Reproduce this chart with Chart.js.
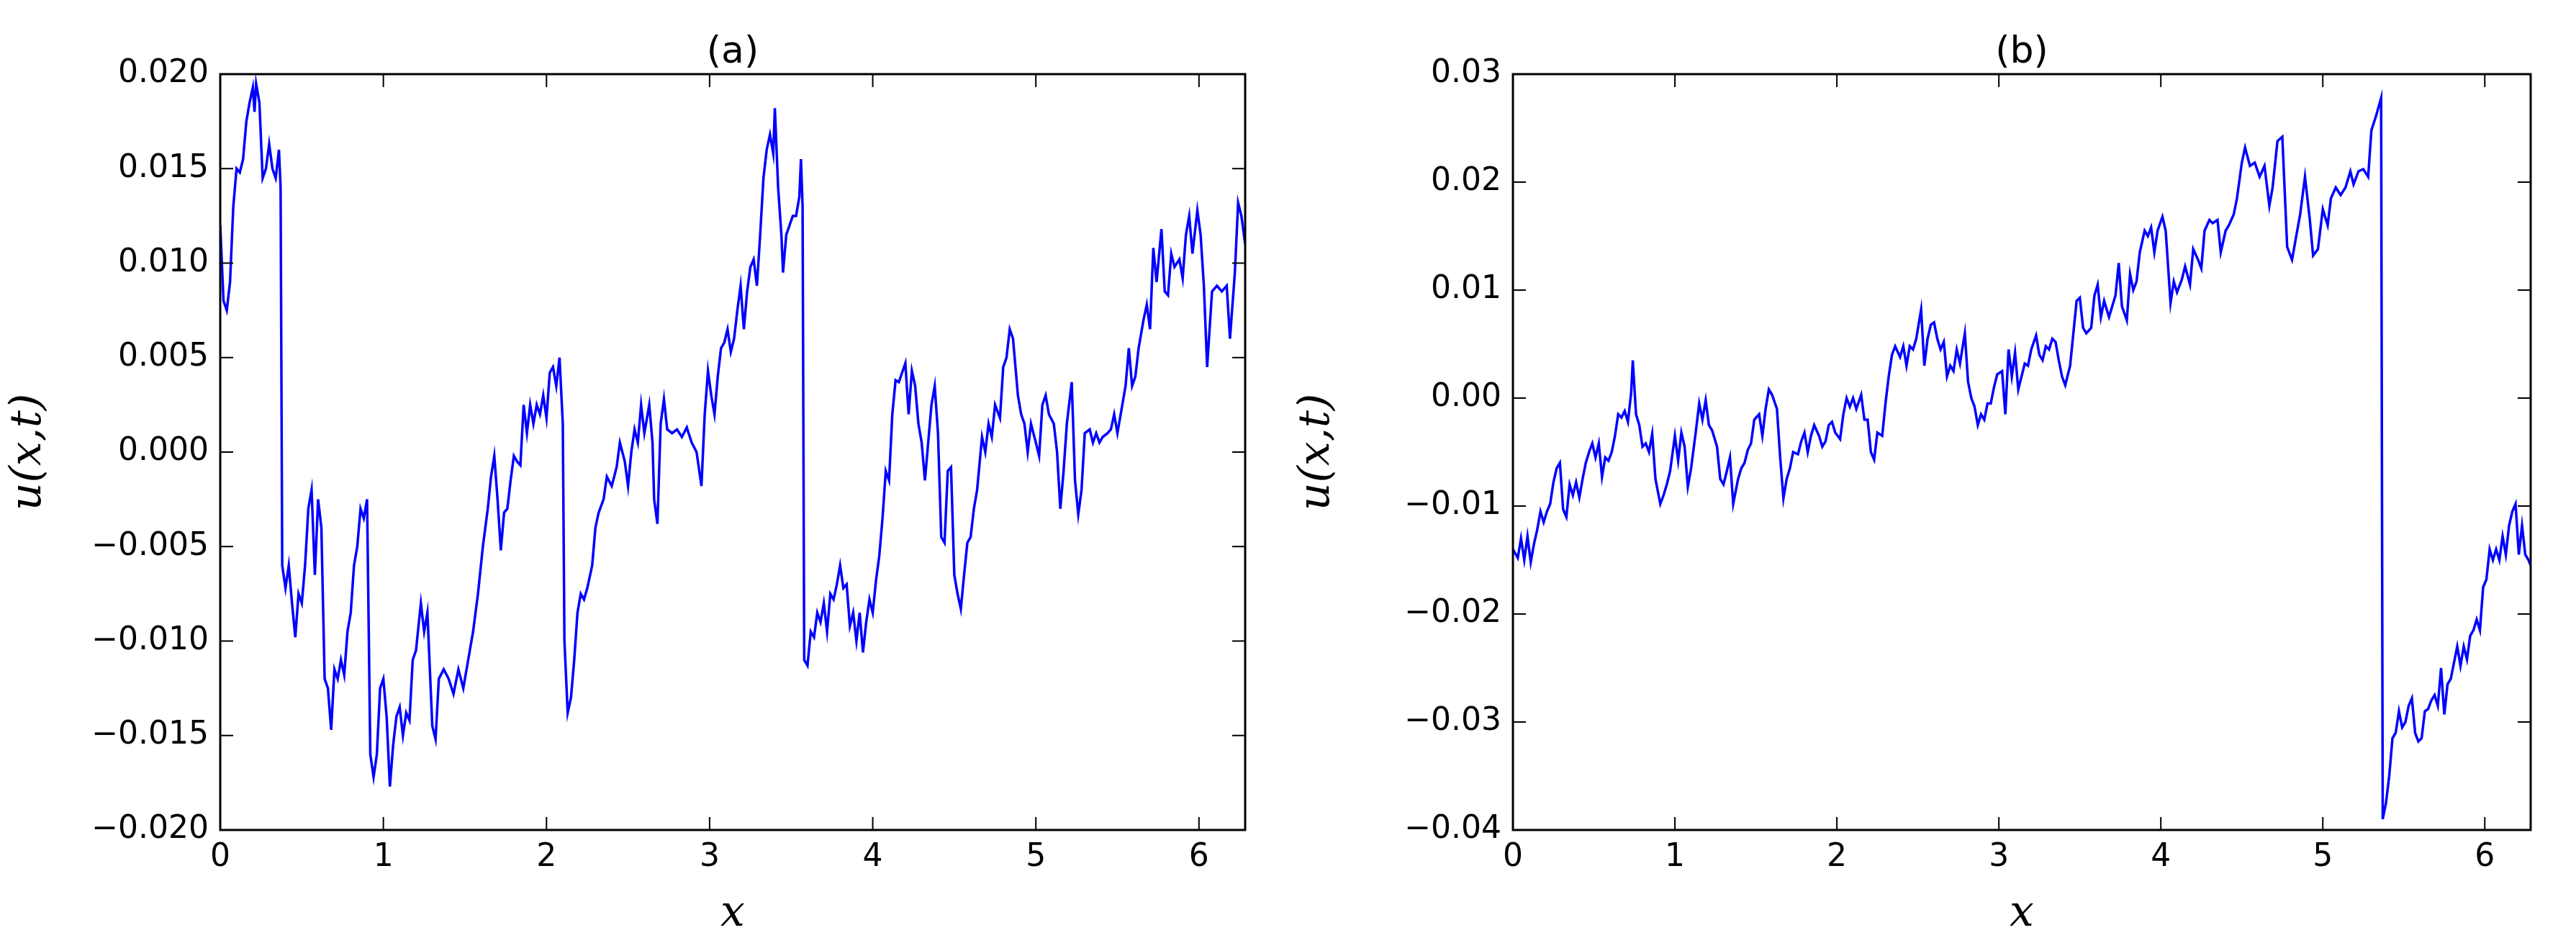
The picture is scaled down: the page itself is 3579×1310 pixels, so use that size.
<!DOCTYPE html>
<html>
<head>
<meta charset="utf-8">
<script src="https://cdn.jsdelivr.net/npm/chart.js@4.4.0/dist/chart.umd.min.js"></script>
<style>
  body { margin: 0; background: #fff; }
  .panel { position: absolute; top: 0; height: 1310px; }
  #panelA { left: 0; width: 1790px; }
  #panelB { left: 1790px; width: 1789px; }
</style>
</head>
<body>
<div class="panel" id="panelA"><canvas id="chartA"></canvas></div>
<div class="panel" id="panelB"><canvas id="chartB"></canvas></div>
<script>
// Panel (a)
const xA = [
  0, 0.02, 0.04, 0.06, 0.08, 0.10, 0.12, 0.14, 0.16, 0.18,
  0.20, 0.21, 0.22, 0.24, 0.26, 0.28, 0.30, 0.32, 0.34, 0.36,
  0.37, 0.38, 0.40, 0.42, 0.44, 0.46, 0.48, 0.50, 0.52, 0.54,
  0.56, 0.58, 0.60, 0.62, 0.64, 0.66, 0.68, 0.70, 0.72, 0.74,
  0.76, 0.78, 0.80, 0.82, 0.84, 0.86, 0.88, 0.90, 0.92, 0.94,
  0.96, 0.98, 1.00, 1.02, 1.04, 1.06, 1.08, 1.10, 1.12, 1.14,
  1.16, 1.18, 1.20, 1.23, 1.25, 1.27, 1.30, 1.32, 1.34, 1.37,
  1.40, 1.43, 1.46, 1.49, 1.52, 1.55, 1.58, 1.61, 1.64, 1.66,
  1.68, 1.70, 1.72, 1.74, 1.76, 1.78, 1.80, 1.82, 1.84, 1.86,
  1.88, 1.90, 1.92, 1.94, 1.96, 1.98, 2.00, 2.02, 2.04, 2.06,
  2.08, 2.10, 2.11, 2.13, 2.15, 2.17, 2.19, 2.21, 2.23, 2.25,
  2.28, 2.30, 2.32, 2.35, 2.37, 2.40, 2.43, 2.45, 2.48, 2.50,
  2.52, 2.54, 2.56, 2.58, 2.60, 2.63, 2.65, 2.66, 2.68, 2.70,
  2.72, 2.74, 2.77, 2.80, 2.83, 2.86, 2.89, 2.92, 2.95, 2.97,
  2.99, 3.01, 3.03, 3.05, 3.07, 3.09, 3.11, 3.13, 3.15, 3.17,
  3.19, 3.21, 3.23, 3.25, 3.27, 3.29, 3.31, 3.33, 3.35, 3.37,
  3.39, 3.40, 3.42, 3.44, 3.45, 3.47, 3.49, 3.51, 3.53, 3.55,
  3.56, 3.57, 3.58, 3.60, 3.62, 3.64, 3.66, 3.68, 3.70, 3.72,
  3.74, 3.76, 3.78, 3.80, 3.82, 3.84, 3.86, 3.88, 3.90, 3.92,
  3.94, 3.96, 3.98, 4.00, 4.02, 4.04, 4.06, 4.08, 4.10, 4.12,
  4.14, 4.16, 4.18, 4.20, 4.22, 4.24, 4.26, 4.28, 4.30, 4.32,
  4.34, 4.36, 4.38, 4.40, 4.42, 4.44, 4.46, 4.48, 4.50, 4.52,
  4.54, 4.56, 4.58, 4.60, 4.62, 4.64, 4.67, 4.69, 4.71, 4.73,
  4.75, 4.78, 4.80, 4.82, 4.84, 4.86, 4.89, 4.91, 4.93, 4.95,
  4.97, 5.00, 5.02, 5.04, 5.06, 5.08, 5.11, 5.13, 5.15, 5.17,
  5.19, 5.22, 5.24, 5.26, 5.28, 5.30, 5.33, 5.35, 5.37, 5.39,
  5.41, 5.44, 5.46, 5.48, 5.50, 5.52, 5.55, 5.57, 5.59, 5.61,
  5.63, 5.66, 5.68, 5.70, 5.72, 5.74, 5.77, 5.79, 5.81, 5.83,
  5.85, 5.88, 5.90, 5.92, 5.94, 5.96, 5.99, 6.01, 6.03, 6.05,
  6.08, 6.11, 6.14, 6.17, 6.19, 6.22, 6.24, 6.26, 6.2832
];
const yA = [
  0.012, 0.008, 0.0075, 0.009, 0.013, 0.015, 0.0148, 0.0155, 0.0175, 0.0185,
  0.0193, 0.018, 0.0195, 0.0185, 0.0145, 0.015, 0.0163, 0.015, 0.0145, 0.016,
  0.014, -0.006, -0.0072, -0.006, -0.008, -0.0098, -0.0075, -0.008, -0.006, -0.003,
  -0.002, -0.0065, -0.0025, -0.004, -0.012, -0.0125, -0.0147, -0.0115, -0.012, -0.011,
  -0.0118, -0.0095, -0.0085, -0.006, -0.005, -0.003, -0.0035, -0.0025, -0.016, -0.0172,
  -0.016, -0.0125, -0.012, -0.014, -0.0177, -0.0155, -0.014, -0.0135, -0.015, -0.0138,
  -0.0142, -0.011, -0.0105, -0.008, -0.0095, -0.0085, -0.0145, -0.0152, -0.012, -0.0115,
  -0.012, -0.0128, -0.0115, -0.0125, -0.011, -0.0095, -0.0075, -0.005, -0.003, -0.0013,
  -0.0002, -0.0025, -0.0052, -0.0032, -0.003, -0.0015, -0.0002, -0.0005, -0.0007, 0.0025,
  0.001, 0.0025, 0.0015, 0.0025, 0.002, 0.003, 0.0018, 0.0042, 0.0045, 0.0035,
  0.005, 0.0015, -0.01, -0.0138, -0.013, -0.011, -0.0085, -0.0075, -0.0078, -0.0072,
  -0.006, -0.004, -0.0032, -0.0025, -0.0013, -0.0018, -0.0008, 0.0005, -0.0005, -0.0018,
  0, 0.0012, 0.0005, 0.0025, 0.001, 0.0025, 0.0005, -0.0025, -0.0038, 0.0015,
  0.0028, 0.0012, 0.001, 0.0012, 0.0008, 0.0013, 0.0005, 0, -0.0018, 0.002,
  0.0043, 0.003, 0.002, 0.004, 0.0055, 0.0058, 0.0065, 0.0053, 0.006, 0.0075,
  0.0088, 0.0065, 0.0085, 0.0098, 0.0102, 0.0088, 0.0115, 0.0145, 0.016, 0.0168,
  0.0158, 0.0182, 0.014, 0.0115, 0.0095, 0.0115, 0.012, 0.0125, 0.0125, 0.0135,
  0.0155, 0.013, -0.011, -0.0113, -0.0095, -0.0098, -0.0085, -0.009, -0.008, -0.0095,
  -0.0075, -0.0078, -0.007, -0.006, -0.0072, -0.007, -0.0092, -0.0085, -0.01, -0.0085,
  -0.0106, -0.009, -0.0078, -0.0085, -0.0068, -0.0055, -0.0035, -0.001, -0.0015, 0.002,
  0.0038, 0.0037, 0.0042, 0.0047, 0.002, 0.0043, 0.0035, 0.0015, 0.0005, -0.0015,
  0.0005, 0.0025, 0.0035, 0.001, -0.0045, -0.0048, -0.001, -0.0008, -0.0065, -0.0075,
  -0.0083, -0.0065, -0.0048, -0.0045, -0.003, -0.002, 0.0008, 0, 0.0015, 0.0008,
  0.0025, 0.0018, 0.0045, 0.005, 0.0065, 0.006, 0.003, 0.002, 0.0015, 0,
  0.0015, 0.0005, -0.0002, 0.0025, 0.003, 0.002, 0.0015, 0, -0.003, -0.001,
  0.0015, 0.0037, -0.0015, -0.0033, -0.002, 0.001, 0.0012, 0.0005, 0.001, 0.0005,
  0.0008, 0.001, 0.0012, 0.002, 0.001, 0.002, 0.0035, 0.0055, 0.0035, 0.004,
  0.0055, 0.007, 0.0078, 0.0065, 0.0108, 0.009, 0.0118, 0.0085, 0.0083, 0.0105,
  0.0098, 0.0102, 0.0092, 0.0115, 0.0125, 0.0105, 0.0128, 0.0115, 0.0088, 0.0045,
  0.0085, 0.0088, 0.0085, 0.0088, 0.006, 0.0095, 0.0132, 0.0125, 0.011
];

// Panel (b)
const xB = [
  0, 0.03, 0.05, 0.07, 0.09, 0.11, 0.13, 0.15, 0.17, 0.19,
  0.21, 0.23, 0.25, 0.27, 0.29, 0.31, 0.33, 0.35, 0.37, 0.39,
  0.41, 0.43, 0.45, 0.47, 0.49, 0.51, 0.53, 0.55, 0.57, 0.59,
  0.61, 0.63, 0.65, 0.67, 0.69, 0.71, 0.73, 0.74, 0.76, 0.78,
  0.80, 0.82, 0.84, 0.86, 0.88, 0.91,
  0.93, 0.95, 0.97, 1.00, 1.02, 1.04, 1.06, 1.08, 1.10, 1.13,
  1.15, 1.17, 1.19, 1.21, 1.23, 1.26, 1.28, 1.30, 1.32, 1.34,
  1.36, 1.39, 1.41, 1.43, 1.45, 1.47, 1.49, 1.52, 1.54, 1.56,
  1.58, 1.60, 1.63, 1.65, 1.67,
  1.69, 1.71, 1.73, 1.76, 1.78, 1.80, 1.82, 1.84, 1.86, 1.89,
  1.91, 1.93, 1.95, 1.97, 1.99, 2.02, 2.04, 2.06, 2.08, 2.10,
  2.12, 2.15, 2.17, 2.19, 2.21, 2.23, 2.25, 2.28, 2.30, 2.32,
  2.34, 2.36, 2.39, 2.41, 2.43, 2.45, 2.47, 2.49, 2.52,
  2.54, 2.56, 2.58, 2.60, 2.62, 2.64, 2.66, 2.68, 2.70, 2.72,
  2.74, 2.76, 2.79, 2.81, 2.83, 2.85, 2.87,
  2.89, 2.91, 2.93, 2.95, 2.97, 2.99, 3.02, 3.04, 3.06, 3.08,
  3.10, 3.12, 3.14, 3.16, 3.18, 3.20, 3.23, 3.25, 3.27, 3.29,
  3.31, 3.33, 3.35, 3.37, 3.39, 3.41, 3.44, 3.46, 3.48, 3.50,
  3.52, 3.54, 3.57, 3.59, 3.61, 3.63, 3.65, 3.68, 3.70, 3.72,
  3.74, 3.76, 3.79, 3.81, 3.83, 3.85, 3.87, 3.90, 3.92, 3.94,
  3.96, 3.98, 4.01,
  4.03, 4.06, 4.08, 4.10, 4.13, 4.15, 4.18, 4.20, 4.23, 4.25,
  4.27, 4.30, 4.32, 4.35, 4.37, 4.40, 4.42, 4.45, 4.47, 4.50,
  4.52,
  4.55, 4.58, 4.61, 4.64, 4.67, 4.69, 4.72, 4.75,
  4.78, 4.81, 4.83, 4.86, 4.89, 4.92, 4.94, 4.97, 5.00, 5.03,
  5.05, 5.08, 5.11, 5.14, 5.17, 5.19, 5.22, 5.25, 5.28, 5.30,
  5.33, 5.36,
  5.37, 5.39, 5.41, 5.43, 5.45, 5.47, 5.49, 5.51, 5.53, 5.55,
  5.57, 5.59, 5.61, 5.63, 5.65, 5.67, 5.69, 5.71, 5.73, 5.75,
  5.77, 5.79, 5.81, 5.83, 5.85, 5.87, 5.89, 5.91, 5.93, 5.95,
  5.97, 5.99, 6.01, 6.03, 6.05, 6.07, 6.09, 6.11, 6.13, 6.15,
  6.17, 6.19, 6.21, 6.23, 6.25, 6.27, 6.2832
];
const yB = [
  -0.014, -0.0148, -0.013, -0.015, -0.0128, -0.0152, -0.0135, -0.0122, -0.0105, -0.0115,
  -0.0105, -0.0098, -0.0078, -0.0065, -0.006, -0.0103, -0.011, -0.008, -0.009, -0.0078,
  -0.0092, -0.0075, -0.006, -0.005, -0.0042, -0.0055, -0.0042, -0.0073, -0.0055, -0.0058,
  -0.005, -0.0035, -0.0015, -0.0018, -0.0012, -0.0022, 0.0005, 0.0035, -0.0015, -0.0025,
  -0.0045, -0.0042, -0.005, -0.0033, -0.0075, -0.0098,
  -0.009, -0.008, -0.0068, -0.0035, -0.0058, -0.0032, -0.0045, -0.0082, -0.0065, -0.003,
  -0.0005, -0.002, -0.0002, -0.0025, -0.003, -0.0045, -0.0075, -0.008, -0.0068, -0.0055,
  -0.0098, -0.0075, -0.0065, -0.006, -0.0048, -0.0042, -0.002, -0.0015, -0.0035, -0.001,
  0.0008, 0.0003, -0.001, -0.0055, -0.0093,
  -0.0075, -0.0065, -0.005, -0.0052, -0.004, -0.0032, -0.005, -0.0035, -0.0025, -0.0035,
  -0.0045, -0.004, -0.0025, -0.0022, -0.0032, -0.0038, -0.0015, 0, -0.0008, 0,
  -0.001, 0.0003, -0.002, -0.002, -0.005, -0.0057, -0.0032, -0.0035, -0.0005, 0.002,
  0.004, 0.0048, 0.0038, 0.0048, 0.003, 0.0048, 0.0045, 0.0055, 0.0082,
  0.003, 0.0055, 0.0068, 0.007, 0.0055, 0.0045, 0.0052, 0.002, 0.003, 0.0025,
  0.0045, 0.0032, 0.006, 0.0015, 0, -0.0008, -0.0025,
  -0.0015, -0.002, -0.0005, -0.0005, 0.001, 0.0022, 0.0025, -0.0015, 0.0045, 0.002,
  0.0042, 0.0008, 0.002, 0.0032, 0.003, 0.0045, 0.0058, 0.004, 0.0035, 0.0048,
  0.0045, 0.0055, 0.0052, 0.0035, 0.002, 0.0012, 0.003, 0.006, 0.009, 0.0093,
  0.0065, 0.006, 0.0065, 0.0095, 0.0105, 0.0075, 0.009, 0.0075, 0.0085, 0.0095,
  0.0125, 0.0085, 0.0072, 0.0115, 0.01, 0.0108, 0.0135, 0.0155, 0.015, 0.0158,
  0.0135, 0.0155, 0.0168,
  0.0155, 0.0088, 0.0108, 0.0098, 0.011, 0.0122, 0.0105, 0.0138, 0.0128, 0.012,
  0.0155, 0.0165, 0.0162, 0.0165, 0.0135, 0.0155, 0.016, 0.017, 0.0185, 0.0218,
  0.0232,
  0.0215, 0.0218, 0.0205, 0.0215, 0.0178, 0.0195, 0.0238, 0.0242,
  0.014, 0.0128, 0.0145, 0.017, 0.0205, 0.0165, 0.0132, 0.0138, 0.0175, 0.016,
  0.0185, 0.0195, 0.0188, 0.0195, 0.021, 0.0198, 0.021, 0.0212, 0.0205, 0.0248,
  0.0262, 0.0278,
  -0.039, -0.0375, -0.035, -0.0315, -0.031, -0.029, -0.0305, -0.03, -0.0285, -0.0278,
  -0.031, -0.0318, -0.0315, -0.029, -0.0288, -0.028, -0.0275, -0.0285, -0.025, -0.0293,
  -0.0265, -0.026, -0.0245, -0.023, -0.0248, -0.023, -0.0242, -0.022, -0.0215, -0.0205,
  -0.0215, -0.0175, -0.0168, -0.014, -0.015, -0.014, -0.015, -0.0128, -0.0145, -0.0118,
  -0.0105, -0.0098, -0.0145, -0.0118, -0.0145, -0.015, -0.0155
];

const xTicks = [0, 1, 2, 3, 4, 5, 6];
const yTicksA = [-0.020, -0.015, -0.010, -0.005, 0.000, 0.005, 0.010, 0.015, 0.020];
const yTicksB = [-0.04, -0.03, -0.02, -0.01, 0.00, 0.01, 0.02, 0.03];

const X_MAX = 2 * Math.PI;

// matplotlib-like frame with inward ticks on all four sides, plus title
const framePlugin = {
    id: 'frame',
    afterDraw(chart, args, opts) {
        const { ctx, chartArea: a, scales } = chart;
        ctx.save();
        ctx.strokeStyle = '#000';
        ctx.lineWidth = 3;
        ctx.strokeRect(a.left, a.top, a.right - a.left, a.bottom - a.top);
        ctx.lineWidth = 2;
        ctx.beginPath();
        xTicks.forEach(function(v) {
            const px = scales.x.getPixelForValue(v);
            ctx.moveTo(px, a.bottom); ctx.lineTo(px, a.bottom - 18);
            ctx.moveTo(px, a.top); ctx.lineTo(px, a.top + 18);
        });
        opts.yTicks.forEach(function(v) {
            const py = scales.y.getPixelForValue(v);
            ctx.moveTo(a.left, py); ctx.lineTo(a.left + 18, py);
            ctx.moveTo(a.right, py); ctx.lineTo(a.right - 18, py);
        });
        ctx.stroke();
        ctx.fillStyle = '#000';
        ctx.font = '52px "DejaVu Sans"';
        ctx.textAlign = 'center';
        ctx.textBaseline = 'bottom';
        ctx.fillText(opts.title, (a.left + a.right) / 2, a.top - 4);
        ctx.restore();
    }
};

function makeChart(id, xs, ys, yTicks, digits, yLeft, rightPad) {
    const pts = xs.map(function(x, i) { return { x: x, y: ys[i] }; });
    const fmt = function(v) {
        const s = Math.abs(v).toFixed(digits);
        return (v < -1e-9 ? '\u2212' : '') + s;
    };
    return new Chart(document.getElementById(id), {
        type: 'line',
        data: {
            datasets: [{
                data: pts,
                borderColor: '#0000ff',
                borderWidth: 3.5,
                pointRadius: 0,
                tension: 0,
                fill: false
            }]
        },
        plugins: [framePlugin],
        options: {
            responsive: true,
            maintainAspectRatio: false,
            animation: false,
            layout: { padding: { top: 103, right: rightPad, left: 0, bottom: 0 } },
            plugins: {
                legend: { display: false },
                tooltip: { enabled: false },
                frame: { yTicks: yTicks, title: id === 'chartA' ? '(a)' : '(b)' }
            },
            scales: {
                x: {
                    type: 'linear',
                    min: 0,
                    max: X_MAX,
                    afterBuildTicks: function(s) { s.ticks = xTicks.map(function(v) { return { value: v }; }); },
                    afterFit: function(s) { s.height = 157; },
                    grid: { display: false },
                    border: { display: false },
                    ticks: { color: '#000', font: { family: 'DejaVu Sans', size: 44 }, padding: 4, maxRotation: 0 },
                    title: { display: true, text: 'x', color: '#000', font: { family: 'DejaVu Serif', size: 60, style: 'italic' }, padding: { top: 0 } }
                },
                y: {
                    type: 'linear',
                    min: yTicks[0],
                    max: yTicks[yTicks.length - 1],
                    afterBuildTicks: function(s) { s.ticks = yTicks.map(function(v) { return { value: v }; }); },
                    afterFit: function(s) { s.width = yLeft; },
                    grid: { display: false },
                    border: { display: false },
                    ticks: { color: '#000', font: { family: 'DejaVu Sans', size: 44 }, padding: 8, callback: fmt },
                    title: { display: true, text: 'u(x,t)', color: '#000', font: { family: 'DejaVu Serif', size: 60, style: 'italic' }, padding: { bottom: 8 } }
                }
            }
        }
    });
}

makeChart('chartA', xA, yA, yTicksA, 3, 306, 60);
makeChart('chartB', xB, yB, yTicksB, 2, 312, 63);
</script>
</body>
</html>
